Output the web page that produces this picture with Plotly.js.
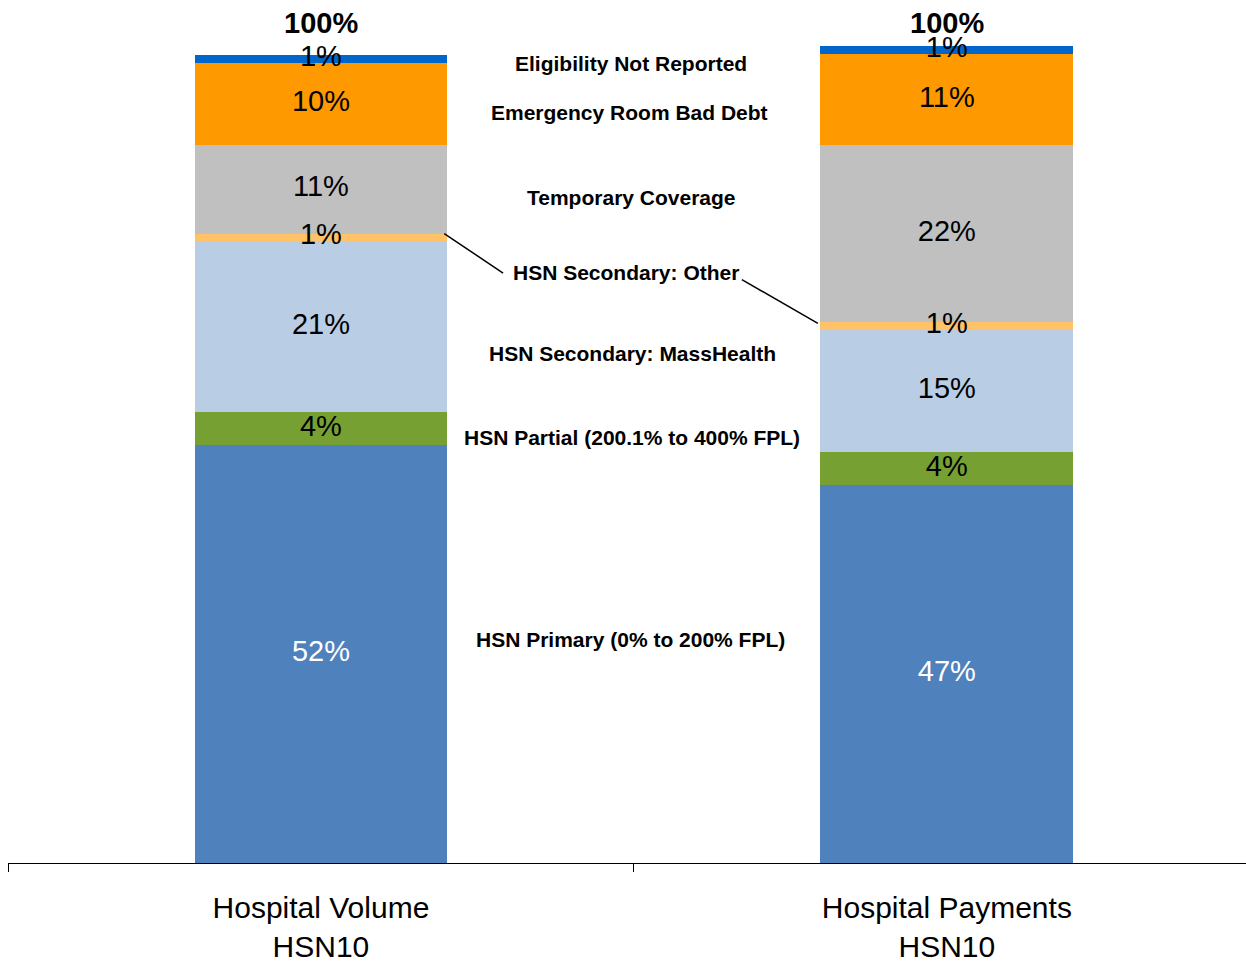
<!DOCTYPE html>
<html>
<head>
<meta charset="utf-8">
<script src="https://cdn.plot.ly/plotly-3.0.1.min.js"></script>
<style>html,body{margin:0;padding:0;background:#fff;}#chart{width:1246px;height:961px;}</style>
</head>
<body>
<div id="chart"></div>
<script>
const categories = ["Hospital Volume<br>HSN10", "Hospital Payments<br>HSN10"];
const seriesNames = [
  "HSN Primary (0% to 200% FPL)",
  "HSN Partial (200.1% to 400% FPL)",
  "HSN Secondary: MassHealth",
  "HSN Secondary: Other",
  "Temporary Coverage",
  "Emergency Room Bad Debt",
  "Eligibility Not Reported"
];
const hsnPrimary      = [51.7, 46.8];
const hsnPartial      = [4.1, 4.1];
const hsnSecMass      = [21.2, 15.0];
const hsnSecOther     = [0.9, 1.1];
const temporaryCov    = [11.0, 21.8];
const erBadDebt       = [10.1, 11.3];
const eligNotReported = [1.0, 1.0];
const totalLabels = ["100%", "100%"];

const seriesValues = [hsnPrimary, hsnPartial, hsnSecMass, hsnSecOther, temporaryCov, erBadDebt, eligNotReported];
const colors = ["#4F81BD", "#77A033", "#B9CDE5", "#FFC266", "#C0C0C0", "#FF9900", "#0066CC"];
const textColors = ["#FFFFFF", "#000", "#000", "#000", "#000", "#000", "#000"];

const FONT = "Liberation Sans, Arial, sans-serif";
const traces = [];
seriesValues.forEach((vals, i) => {
  traces.push({
    type: "bar", x: categories, y: vals, name: seriesNames[i],
    marker: {color: colors[i], line: {width: 0}},
    width: 0.404, hoverinfo: "name+y", showlegend: false
  });
});
// segment value labels at cumulative midpoints
const cum = [0, 0];
seriesValues.forEach((vals, i) => {
  const ys = vals.map((v, j) => cum[j] + v / 2);
  vals.forEach((v, j) => cum[j] += v);
  traces.push({
    type: "scatter", mode: "text", x: categories, y: ys,
    text: vals.map(v => Math.round(v) + "%"),
    textposition: "middle center",
    textfont: {family: FONT, size: 29, color: textColors[i]},
    hoverinfo: "skip", showlegend: false, cliponaxis: false
  });
});

const annotations = [];
categories.forEach((c, j) => {
  annotations.push({x: c, y: 103.9, xref: "x", yref: "y", text: "<b>" + totalLabels[j] + "</b>",
    showarrow: false, font: {family: FONT, size: 29, color: "#000"}, yanchor: "middle"});
});
const seriesLabelY = [27.6, 52.6, 63.0, 73.1, 82.4, 92.9, 98.9];
const seriesLabelX = [0.495, 0.497, 0.497, 0.487, 0.496, 0.493, 0.496];
seriesNames.forEach((n, i) => {
  annotations.push({x: seriesLabelX[i], y: seriesLabelY[i], xref: "x", yref: "y", text: "<b>" + n + "</b>",
    showarrow: false, font: {family: FONT, size: 21, color: "#000"}, xanchor: "center", yanchor: "middle"});
});

// leader lines for HSN Secondary: Other
const leftTopOther = hsnPrimary[0] + hsnPartial[0] + hsnSecMass[0] + hsnSecOther[0];
const rightMidOther = hsnPrimary[1] + hsnPartial[1] + hsnSecMass[1] + hsnSecOther[1] * 0.8;
const shapes = [
  {type: "line", xref: "x", yref: "y", x0: 0.197, y0: leftTopOther, x1: 0.291, y1: 73.0, line: {color: "#000", width: 1.5}},
  {type: "line", xref: "x", yref: "y", x0: 0.6725, y0: 72.2, x1: 0.794, y1: rightMidOther, line: {color: "#000", width: 1.5}}
];

const layout = {
  width: 1246, height: 961,
  margin: {l: 8, r: 0, t: 0, b: 98},
  paper_bgcolor: "#fff", plot_bgcolor: "#fff",
  barmode: "stack", showlegend: false,
  xaxis: {
    type: "category", range: [-0.5, 1.478],
    showline: true, linecolor: "#000", linewidth: 1.3,
    ticks: "outside", tickson: "boundaries", ticklen: 8, tickcolor: "#000", tickwidth: 1,
    ticklabelstandoff: 18,
    showgrid: false, zeroline: false,
    tickfont: {family: FONT, size: 30, color: "#000"}
  },
  yaxis: {visible: false, range: [0, 106.8], showgrid: false, zeroline: false},
  annotations: annotations,
  shapes: shapes,
  font: {family: FONT}
};
Plotly.newPlot("chart", traces, layout, {displayModeBar: false, staticPlot: true});
</script>
</body>
</html>
